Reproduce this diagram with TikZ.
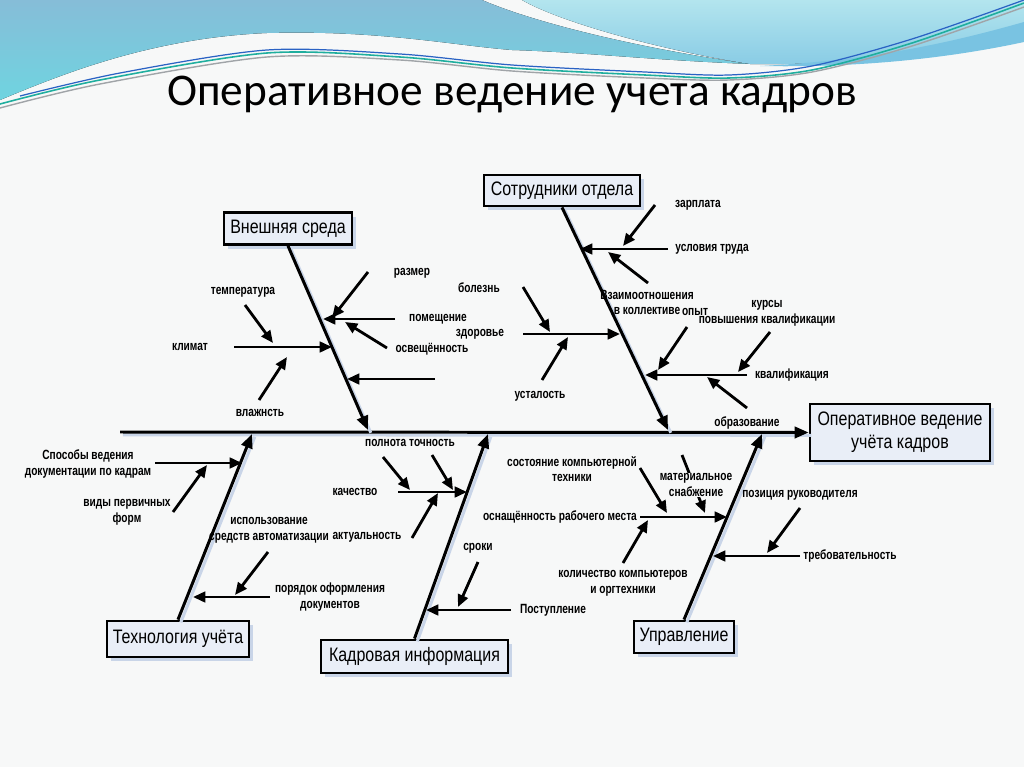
\documentclass[tikz,border=0pt]{standalone}
\usepackage{fontspec}
\usetikzlibrary{arrows.meta,shadows}
\newfontfamily\labf[FakeStretch=0.76]{Liberation Sans}
\newfontfamily\boxf[FakeStretch=0.82]{Liberation Sans}
\newfontfamily\ttlf{Carlito}
\definecolor{bgc}{HTML}{F7F8F8}
\definecolor{hbA}{HTML}{86BDD8}
\definecolor{hbB}{HTML}{6FD4E0}
\definecolor{hcA}{HTML}{B3E5EE}
\definecolor{hcB}{HTML}{88CBE5}
\definecolor{hband}{HTML}{79C3E2}
\definecolor{lteal}{HTML}{1FAE9E}
\definecolor{lblue}{HTML}{2A62C4}
\definecolor{lgrey}{HTML}{A0A4A8}
\definecolor{boxc}{HTML}{E9EEF7}
\definecolor{shadowc}{HTML}{C9D5E8}
\tikzset{
  arr/.style={line width=1.6pt, -{Triangle[length=7pt,width=6pt]}},
  bonearr/.style={line width=1.7pt, -{Triangle[length=8pt,width=6.5pt]},
    preaction={draw=shadowc, line width=1.7pt, -, transform canvas={shift={(1.6pt,-1.6pt)}}}},
  lbl/.style={font=\labf\bfseries\fontsize{7.6}{9}\selectfont, inner sep=0.5pt, align=center},
  catbox/.style={draw, line width=1.6pt, fill=boxc, font=\boxf\fontsize{11.1}{13}\selectfont,
    drop shadow={shadow xshift=2.5pt, shadow yshift=-2.5pt, fill=shadowc, opacity=1}, inner sep=0pt, align=center},
}
\begin{document}
\begin{tikzpicture}[x=0.02cm,y=-0.02cm]
\useasboundingbox (0,0) rectangle (1024,767);
\fill[bgc] (0,0) rectangle (1024,767);
% header
\fill[top color=hbA, bottom color=hbB] (0,0) -- (482,0) .. controls (540,25) and (650,50) .. (750,64)
  .. controls (650,60) and (580,52) .. (512,50) .. controls (450,45) and (380,30) .. (267,33)
  .. controls (150,38) and (60,75) .. (0,100) -- cycle;
\fill[top color=hcA, bottom color=hcB] (522,0) -- (1024,0) -- (1024,35) .. controls (950,50) and (850,66) .. (750,64)
  .. controls (660,50) and (560,22) .. (522,0) -- cycle;
\fill[hband] (760,66) .. controls (880,60) and (960,40) .. (1024,22) -- (1024,42) .. controls (950,58) and (860,68) .. (760,66) -- cycle;
\draw[lgrey, line width=0.8pt] plot[smooth] coordinates {(0,108) (100,84) (267,57) (400,60) (512,71) (645,78) (729,80) (812,72) (912,46) (1024,7)};
\draw[lteal, line width=0.9pt] plot[smooth] coordinates {(0,104) (100,80) (267,53) (400,57) (512,68) (645,75) (729,78) (812,70) (912,43) (1024,3)};
\draw[lblue, line width=0.7pt] plot[smooth] coordinates {(20,96) (120,73) (267,50) (400,54) (512,65) (645,72) (729,75) (812,66) (912,39) (1024,0)};
% title
\node[font=\ttlf\fontsize{25.8}{30}\selectfont, anchor=base, inner sep=0pt] (title) at (512,106) {Оперативное ведение учета кадров};

% boxes
\node[catbox, minimum width=3.6cm, minimum height=1.14cm] (eff) at (900,432.5) {Оперативное ведение\\учёта кадров};
\node[catbox, minimum width=2.56cm, minimum height=0.64cm] (vs) at (288,228.5) {Внешняя среда};
\node[catbox, minimum width=3.12cm, minimum height=0.62cm] (so) at (562,190.5) {Сотрудники отдела};
\node[catbox, minimum width=2.84cm, minimum height=0.72cm] (tu) at (178,639) {Технология учёта};
\node[catbox, minimum width=3.74cm, minimum height=0.66cm] (ki) at (414.5,656.5) {Кадровая информация};
\node[catbox, minimum width=2.0cm, minimum height=0.64cm] (up) at (684,637) {Управление};

% spine
\coordinate (sp0) at (120,432);
\draw[bonearr] (sp0) -- (eff.west);

% bones
\coordinate (b1) at (368,430);
\coordinate (b2) at (668,430);
\coordinate (b3) at (252,434);
\coordinate (b4) at (488,434);
\coordinate (b5) at (762,434);
\draw[bonearr] (vs.south) -- (b1);
\draw[bonearr] (so.south) -- (b2);
\draw[bonearr] (tu.north) -- (b3);
\draw[bonearr] (ki.north) -- (b4);
\draw[bonearr] (up.north) -- (b5);

% --- Внешняя среда
\node[lbl] (l-razmer) at (412,273) {размер};
\node[lbl] (l-pomesh) at (438,319) {помещение};
\node[lbl] (l-osv) at (432,349) {освещённость};
\node[lbl] (l-klimat) at (190,347) {климат};
\node[lbl] (l-temp) at (243,292) {температура};
\node[lbl] (l-vlazh) at (260,413) {влажнсть};
\coordinate (a1t) at (368,272); \coordinate (a1h) at (332,318);
\coordinate (a2t) at (395,319); \coordinate (a2h) at (323,319);
\coordinate (a3t) at (387,348); \coordinate (a3h) at (345,322);
\coordinate (a4t) at (234,347); \coordinate (a4h) at (332,347);
\coordinate (a5t) at (245,305); \coordinate (a5h) at (273,343);
\coordinate (a6t) at (259,400); \coordinate (a6h) at (287,357);
\coordinate (a7t) at (435,379); \coordinate (a7h) at (347,379);
\foreach \i in {1,...,7} \draw[arr] (a\i t) -- (a\i h);

% --- Сотрудники отдела
\node[lbl] (l-zarp) at (698,205) {зарплата};
\node[lbl] (l-usl) at (712,249) {условия труда};
\node[lbl] (l-vzaim) at (647,302.5) {Взаимоотношения\\в коллективе};
\node[lbl] (l-opyt) at (695,312) {опыт};
\node[lbl] (l-zdor) at (480,334) {здоровье};
\node[lbl] (l-bolezn) at (479,288) {болезнь};
\node[lbl] (l-ustal) at (540,396) {усталость};
\node[lbl] (l-kursy) at (767,313) {курсы\\повышения квалификации};
\node[lbl] (l-kval) at (792,375) {квалификация};
\node[lbl] (l-obraz) at (747,423) {образование};
\coordinate (c1t) at (668,249); \coordinate (c1h) at (580,249);
\coordinate (c2t) at (655,205); \coordinate (c2h) at (623,246);
\coordinate (c3t) at (648,283); \coordinate (c3h) at (608,252);
\coordinate (c4t) at (523,334); \coordinate (c4h) at (620,334);
\coordinate (c5t) at (523,287); \coordinate (c5h) at (550,332);
\coordinate (c6t) at (542,380); \coordinate (c6h) at (568,337);
\coordinate (c7t) at (747,375); \coordinate (c7h) at (645,375);
\coordinate (c8t) at (687,327); \coordinate (c8h) at (658,370);
\coordinate (c9t) at (770,332); \coordinate (c9h) at (738,372);
\coordinate (c10t) at (747,408); \coordinate (c10h) at (707,377);
\foreach \i in {1,...,10} \draw[arr] (c\i t) -- (c\i h);

% --- Технология учёта
\node[lbl] (l-sposob) at (88,464) {Способы ведения\\документации по кадрам};
\node[lbl] (l-vidy) at (127,512) {виды первичных\\форм};
\node[lbl] (l-isp) at (269,530) {использование\\средств автоматизации};
\node[lbl] (l-poryad) at (330,597) {порядок оформления\\документов};
\coordinate (d1t) at (155,463); \coordinate (d1h) at (242,463);
\coordinate (d2t) at (173,512); \coordinate (d2h) at (207,465);
\coordinate (d3t) at (268,552); \coordinate (d3h) at (235,595);
\coordinate (d4t) at (270,597); \coordinate (d4h) at (193,597);
\foreach \i in {1,...,4} \draw[arr] (d\i t) -- (d\i h);

% --- Кадровая информация
\node[lbl] (l-poln) at (410,443) {полнота точность};
\node[lbl] (l-kach) at (355,492) {качество};
\node[lbl] (l-akt) at (367,537) {актуальность};
\node[lbl] (l-sroki) at (478,548) {сроки};
\node[lbl] (l-post) at (553,610) {Поступление};
\coordinate (e1t) at (398,492); \coordinate (e1h) at (467,492);
\coordinate (e2t) at (383,457); \coordinate (e2h) at (410,490);
\coordinate (e3t) at (432,455); \coordinate (e3h) at (453,490);
\coordinate (e4t) at (412,538); \coordinate (e4h) at (438,493);
\coordinate (e5t) at (478,562); \coordinate (e5h) at (458,607);
\coordinate (e6t) at (511,610); \coordinate (e6h) at (426,610);
\foreach \i in {1,...,6} \draw[arr] (e\i t) -- (e\i h);

% --- Управление
\coordinate (f1t) at (640,517); \coordinate (f1h) at (727,517);
\coordinate (f2t) at (640,468); \coordinate (f2h) at (667,513);
\coordinate (f3t) at (682,455); \coordinate (f3h) at (705,513);
\coordinate (f4t) at (623,563); \coordinate (f4h) at (648,520);
\coordinate (f5t) at (800,556); \coordinate (f5h) at (713,556);
\coordinate (f6t) at (800,508); \coordinate (f6h) at (767,553);
\foreach \i in {1,...,6} \draw[arr] (f\i t) -- (f\i h);
\node[lbl] (l-sost) at (572,469) {состояние компьютерной\\техники};
\node[lbl, fill=bgc] (l-mat) at (696,485) {материальное\\снабжение};
\node[lbl] (l-osn) at (560,517) {оснащённость рабочего места};
\node[lbl] (l-kol) at (623,583) {количество компьютеров\\и оргтехники};
\node[lbl] (l-poz) at (800,495) {позиция руководителя};
\node[lbl] (l-treb) at (850,556) {требовательность};
\end{tikzpicture}
\end{document}
